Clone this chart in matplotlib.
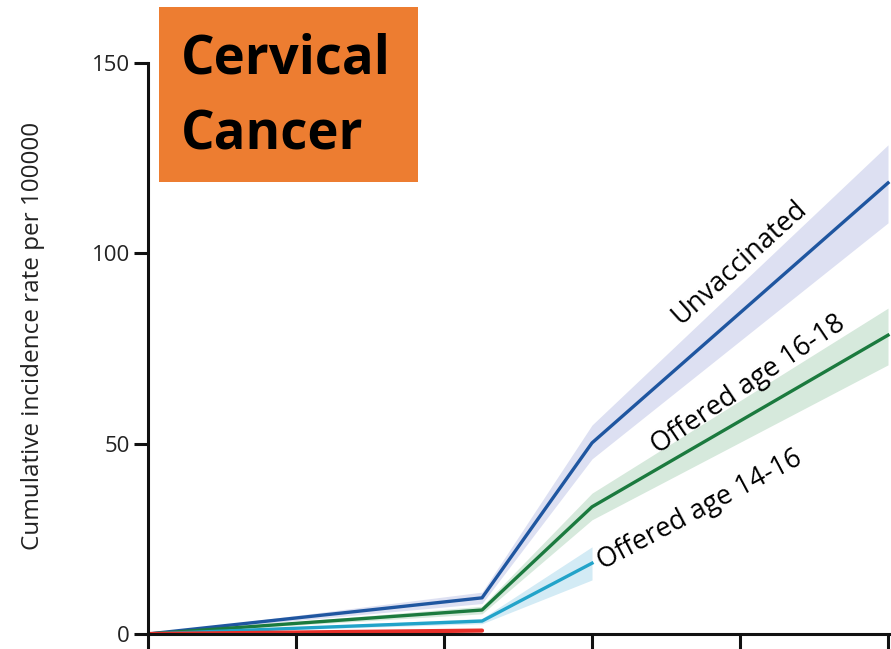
import matplotlib
matplotlib.use("Agg")
import matplotlib.pyplot as plt
from matplotlib.patches import Rectangle

# Time points (axis units) and cumulative incidence per 100 000
x_full = [0.0, 2.257, 3.0, 5.0]
x_mid = [0.0, 2.257, 3.0]
x_short = [0.0, 2.257]

unvacc = [0.0, 9.5, 50.2, 118.5]
unvacc_lo = [0.0, 8.0, 46.0, 108.0]
unvacc_hi = [0.0, 11.0, 54.9, 128.5]

age16_18 = [0.0, 6.3, 33.4, 78.5]
age16_18_lo = [0.0, 5.3, 30.0, 70.7]
age16_18_hi = [0.0, 7.3, 37.0, 85.6]

age14_16 = [0.0, 3.4, 18.6]
age14_16_lo = [0.0, 2.7, 14.2]
age14_16_hi = [0.0, 4.1, 22.9]

age12_13 = [0.0, 0.9]

yticks = [0, 50, 100, 150]
xticks = [0, 1, 2, 3, 4, 5]

W, H = 891, 649
fig = plt.figure(figsize=(W / 100, H / 100), dpi=100)
ax = fig.add_axes([148 / W, 15 / H, (W - 148) / W, 571 / H])

c_blue, c_green, c_cyan, c_red = "#1f56a0", "#1b7a3e", "#22a3c9", "#e8302a"
ax.fill_between(x_full, unvacc_lo, unvacc_hi, color="#dde0f2", lw=0)
ax.fill_between(x_full, age16_18_lo, age16_18_hi, color="#d6e9dc", lw=0)
ax.fill_between(x_mid, age14_16_lo, age14_16_hi, color="#d3ebf5", lw=0)
ax.plot(x_full, unvacc, color=c_blue, lw=2.4)
ax.plot(x_full, age16_18, color=c_green, lw=2.4)
ax.plot(x_mid, age14_16, color=c_cyan, lw=2.4)
ax.plot(x_short, age12_13, color=c_red, lw=3.0, solid_capstyle="round")

ax.set_xlim(0, (W - 148) / 148)
ax.set_ylim(0, 150)
ax.set_yticks(yticks)
ax.set_xticks(xticks)
ax.set_xticklabels([])
for s in ("top", "right"):
    ax.spines[s].set_visible(False)
for s in ("left", "bottom"):
    ax.spines[s].set_linewidth(2.2)
    ax.spines[s].set_color("#111111")
ax.tick_params(axis="y", length=10, width=2.2, color="#111111", pad=3,
               labelsize=16, labelcolor="#222222")
ax.tick_params(axis="x", length=16, width=2.2, color="#111111")
for lab in ax.get_yticklabels():
    lab.set_fontfamily("Open Sans")

fig.text(33 / W, 1 - 336 / H, "Cumulative incidence rate per 100000",
         rotation=90, ha="center", va="center", fontsize=17.5,
         family="Open Sans", color="#222222")

# Series labels along the lines
lab_kw = dict(fontsize=19.5, family="Open Sans", color="black",
              ha="center", va="center", rotation_mode="anchor")
ax.text((740 - 148) / 148, (634 - 262) / 3.807, "Unvaccinated",
        rotation=42, **lab_kw)
ax.text((748 - 148) / 148, (634 - 385) / 3.807, "Offered age 16-18",
        rotation=34, **lab_kw)
ax.text((700 - 148) / 148, (634 - 510) / 3.807, "Offered age 14-16",
        rotation=28, **lab_kw)

# Title box
fig.patches.append(Rectangle((159 / W, 1 - 182 / H), (418 - 159) / W,
                             (182 - 7) / H, transform=fig.transFigure,
                             facecolor="#ed7d31", edgecolor="none", zorder=5))
fig.text(181 / W, 1 - 60 / H, "Cervical", fontsize=38, weight="bold",
         family="Open Sans", ha="left", va="center", zorder=6)
fig.text(181 / W, 1 - 136 / H, "Cancer", fontsize=38, weight="bold",
         family="Open Sans", ha="left", va="center", zorder=6)

fig.savefig("out.png", dpi=100)
